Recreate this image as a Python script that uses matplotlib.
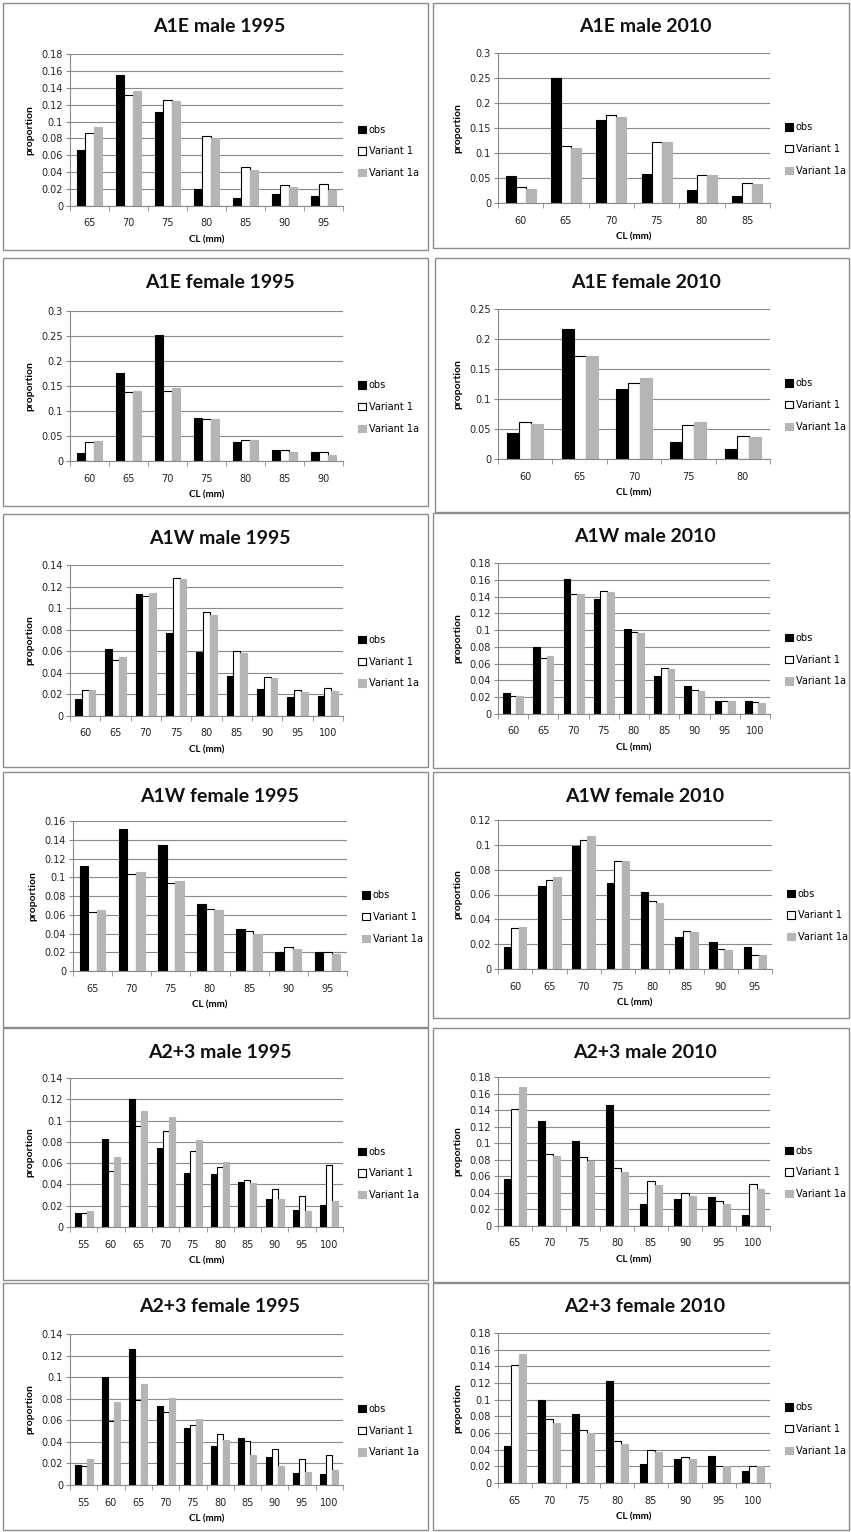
import numpy as np
import matplotlib.pyplot as plt
from matplotlib.patches import Rectangle
from matplotlib.ticker import FixedLocator, FuncFormatter

# ---------------- data: proportion at length by CL class (mm) ----------------
a1e_m95_cl = [65, 70, 75, 80, 85, 90, 95]
a1e_m95_obs = [0.066, 0.155, 0.111, 0.020, 0.010, 0.014, 0.012]
a1e_m95_v1 = [0.087, 0.131, 0.125, 0.083, 0.046, 0.025, 0.026]
a1e_m95_v1a = [0.094, 0.136, 0.124, 0.080, 0.043, 0.022, 0.019]

a1e_m10_cl = [60, 65, 70, 75, 80, 85]
a1e_m10_obs = [0.054, 0.251, 0.167, 0.059, 0.027, 0.015]
a1e_m10_v1 = [0.032, 0.115, 0.177, 0.122, 0.057, 0.041]
a1e_m10_v1a = [0.029, 0.110, 0.172, 0.122, 0.057, 0.038]

a1e_f95_cl = [60, 65, 70, 75, 80, 85, 90]
a1e_f95_obs = [0.017, 0.176, 0.253, 0.086, 0.038, 0.022, 0.019]
a1e_f95_v1 = [0.038, 0.138, 0.140, 0.085, 0.043, 0.022, 0.018]
a1e_f95_v1a = [0.040, 0.140, 0.146, 0.085, 0.042, 0.019, 0.012]

a1e_f10_cl = [60, 65, 70, 75, 80]
a1e_f10_obs = [0.043, 0.217, 0.117, 0.029, 0.017]
a1e_f10_v1 = [0.062, 0.171, 0.127, 0.057, 0.038]
a1e_f10_v1a = [0.059, 0.171, 0.135, 0.061, 0.036]

a1w_m95_cl = [60, 65, 70, 75, 80, 85, 90, 95, 100]
a1w_m95_obs = [0.016, 0.062, 0.113, 0.077, 0.059, 0.037, 0.025, 0.018, 0.019]
a1w_m95_v1 = [0.024, 0.052, 0.111, 0.128, 0.096, 0.060, 0.036, 0.024, 0.026]
a1w_m95_v1a = [0.024, 0.055, 0.114, 0.127, 0.094, 0.058, 0.035, 0.022, 0.023]

a1w_m10_cl = [60, 65, 70, 75, 80, 85, 90, 95, 100]
a1w_m10_obs = [0.025, 0.080, 0.161, 0.137, 0.101, 0.045, 0.033, 0.015, 0.015]
a1w_m10_v1 = [0.022, 0.067, 0.143, 0.147, 0.098, 0.055, 0.029, 0.016, 0.014]
a1w_m10_v1a = [0.022, 0.069, 0.143, 0.146, 0.096, 0.054, 0.028, 0.015, 0.013]

a1w_f95_cl = [65, 70, 75, 80, 85, 90, 95]
a1w_f95_obs = [0.112, 0.152, 0.134, 0.071, 0.045, 0.020, 0.020]
a1w_f95_v1 = [0.063, 0.104, 0.094, 0.066, 0.043, 0.026, 0.020]
a1w_f95_v1a = [0.065, 0.106, 0.096, 0.065, 0.040, 0.023, 0.018]

a1w_f10_cl = [60, 65, 70, 75, 80, 85, 90, 95]
a1w_f10_obs = [0.018, 0.067, 0.099, 0.069, 0.062, 0.026, 0.022, 0.018]
a1w_f10_v1 = [0.033, 0.072, 0.104, 0.087, 0.055, 0.031, 0.016, 0.011]
a1w_f10_v1a = [0.034, 0.074, 0.107, 0.087, 0.053, 0.030, 0.015, 0.011]

a23_m95_cl = [55, 60, 65, 70, 75, 80, 85, 90, 95, 100]
a23_m95_obs = [0.013, 0.083, 0.120, 0.074, 0.051, 0.050, 0.042, 0.026, 0.016, 0.021]
a23_m95_v1 = [0.013, 0.053, 0.095, 0.090, 0.071, 0.056, 0.044, 0.036, 0.029, 0.058]
a23_m95_v1a = [0.015, 0.066, 0.109, 0.103, 0.082, 0.061, 0.041, 0.026, 0.015, 0.024]

a23_m10_cl = [65, 70, 75, 80, 85, 90, 95, 100]
a23_m10_obs = [0.057, 0.127, 0.103, 0.146, 0.027, 0.033, 0.035, 0.013]
a23_m10_v1 = [0.141, 0.087, 0.083, 0.070, 0.054, 0.040, 0.030, 0.051]
a23_m10_v1a = [0.168, 0.085, 0.079, 0.065, 0.050, 0.036, 0.026, 0.045]

a23_f95_cl = [55, 60, 65, 70, 75, 80, 85, 90, 95, 100]
a23_f95_obs = [0.019, 0.100, 0.126, 0.073, 0.053, 0.036, 0.044, 0.026, 0.011, 0.010]
a23_f95_v1 = [0.018, 0.059, 0.079, 0.068, 0.056, 0.047, 0.041, 0.033, 0.024, 0.028]
a23_f95_v1a = [0.024, 0.077, 0.094, 0.081, 0.061, 0.042, 0.028, 0.018, 0.012, 0.014]

a23_f10_cl = [65, 70, 75, 80, 85, 90, 95, 100]
a23_f10_obs = [0.045, 0.100, 0.083, 0.122, 0.023, 0.029, 0.032, 0.014]
a23_f10_v1 = [0.142, 0.077, 0.064, 0.050, 0.040, 0.031, 0.021, 0.021]
a23_f10_v1a = [0.155, 0.072, 0.060, 0.047, 0.037, 0.029, 0.020, 0.021]

titles = ['A1E male 1995', 'A1E male 2010', 'A1E female 1995', 'A1E female 2010',
          'A1W male 1995', 'A1W male 2010', 'A1W female 1995', 'A1W female 2010',
          'A2+3 male 1995', 'A2+3 male 2010', 'A2+3 female 1995', 'A2+3 female 2010']
y_max = [0.18, 0.3, 0.3, 0.25, 0.14, 0.18, 0.16, 0.12, 0.14, 0.18, 0.14, 0.18]
y_step = [0.02, 0.05, 0.05, 0.05, 0.02, 0.02, 0.02, 0.02, 0.02, 0.02, 0.02, 0.02]
series_names = ['obs', 'Variant 1', 'Variant 1a']

panels = [
    (a1e_m95_cl, a1e_m95_obs, a1e_m95_v1, a1e_m95_v1a),
    (a1e_m10_cl, a1e_m10_obs, a1e_m10_v1, a1e_m10_v1a),
    (a1e_f95_cl, a1e_f95_obs, a1e_f95_v1, a1e_f95_v1a),
    (a1e_f10_cl, a1e_f10_obs, a1e_f10_v1, a1e_f10_v1a),
    (a1w_m95_cl, a1w_m95_obs, a1w_m95_v1, a1w_m95_v1a),
    (a1w_m10_cl, a1w_m10_obs, a1w_m10_v1, a1w_m10_v1a),
    (a1w_f95_cl, a1w_f95_obs, a1w_f95_v1, a1w_f95_v1a),
    (a1w_f10_cl, a1w_f10_obs, a1w_f10_v1, a1w_f10_v1a),
    (a23_m95_cl, a23_m95_obs, a23_m95_v1, a23_m95_v1a),
    (a23_m10_cl, a23_m10_obs, a23_m10_v1, a23_m10_v1a),
    (a23_f95_cl, a23_f95_obs, a23_f95_v1, a23_f95_v1a),
    (a23_f10_cl, a23_f10_obs, a23_f10_v1, a23_f10_v1a),
]

# ---------------- layout (pixels) ----------------
W, H = 851, 1532
# panel frames: x0, y0, x1, y1
boxes = [
    (3, 3, 428, 250), (433, 3, 849, 248),
    (3, 258, 428, 506), (435, 258, 849, 512),
    (3, 514, 428, 767), (433, 513, 849, 768),
    (3, 772, 428, 1027), (433, 772, 849, 1018),
    (3, 1028, 428, 1280), (433, 1028, 849, 1282),
    (3, 1283, 428, 1530), (433, 1283, 849, 1530),
]
# plot area: left, top, right, bottom
plot_areas = [
    (70, 54, 343, 206), (498, 53, 770, 203),
    (70, 311, 343, 461), (498, 309, 770, 459),
    (70, 565, 343, 716), (498, 563, 770, 714),
    (73, 821, 347, 971), (498, 820, 772, 969),
    (70, 1078, 343, 1227), (498, 1077, 770, 1226),
    (70, 1334, 343, 1485), (498, 1333, 770, 1483),
]

grid_col = '#8a8a8a'
bar_cols = ['black', 'white', '#b5b5b5']
edge_cols = ['black', 'black', '#b5b5b5']
title_font = 'Lato'


def excel_fmt(v, pos):
    if abs(v) < 1e-9:
        return '0'
    return ('%.2f' % v).rstrip('0').rstrip('.')


fig = plt.figure(figsize=(W / 100, H / 100), dpi=100)
fig.patch.set_facecolor('white')

for i, (cl, obs, v1, v1a) in enumerate(panels):
    x0, y0, x1, y1 = boxes[i]
    fig.patches.append(Rectangle((x0 / W, 1 - y1 / H), (x1 - x0) / W, (y1 - y0) / H,
                                 transform=fig.transFigure, fill=False,
                                 edgecolor='#8c8c8c', lw=1.0))
    l, t, r, b = plot_areas[i]
    ax = fig.add_axes([l / W, 1 - b / H, (r - l) / W, (b - t) / H])

    x = np.arange(len(cl))
    bw = 0.22
    for k, vals in enumerate([obs, v1, v1a]):
        ax.bar(x + (k - 1) * bw, vals, bw, color=bar_cols[k],
               edgecolor=edge_cols[k], linewidth=0.8, label=series_names[k])

    ax.set_xlim(-0.5, len(cl) - 0.5)
    ax.set_ylim(0, y_max[i])
    ax.set_yticks(np.arange(0, y_max[i] + 1e-9, y_step[i]))
    ax.yaxis.set_major_formatter(FuncFormatter(excel_fmt))
    ax.set_xticks(x)
    ax.set_xticklabels([str(c) for c in cl])
    ax.xaxis.set_minor_locator(FixedLocator(np.arange(-0.5, len(cl), 1.0)))
    ax.tick_params(axis='x', which='major', length=0, pad=9, labelsize=7, labelcolor='#222222')
    ax.tick_params(axis='x', which='minor', length=3.5, color=grid_col, direction='out')
    ax.tick_params(axis='y', length=3, color=grid_col, direction='out', pad=2,
                   labelsize=7, labelcolor='#222222')

    ax.yaxis.grid(True, color=grid_col, lw=0.8)
    ax.set_axisbelow(True)
    for s in ['top', 'right']:
        ax.spines[s].set_visible(False)
    for s in ['left', 'bottom']:
        ax.spines[s].set_color(grid_col)
        ax.spines[s].set_linewidth(0.8)

    ax.set_xlabel('CL (mm)', family=title_font, fontweight='bold', fontsize=7, labelpad=5)
    ax.set_ylabel('proportion', family=title_font, fontweight='bold', fontsize=7.5, labelpad=5)

    fig.text((x0 + x1) / 2 / W + 4 / W, 1 - (y0 + 24) / H, titles[i],
             family=title_font, fontweight='bold', fontsize=14,
             ha='center', va='center', color='#111111')

    ax.legend(loc='center left', bbox_to_anchor=(1.055, 0.36), frameon=False,
              fontsize=7, handlelength=0.8, handleheight=0.8, handletextpad=0.3,
              labelspacing=1.2, borderpad=0, borderaxespad=0)

fig.savefig('out.png', dpi=100, facecolor='white')
